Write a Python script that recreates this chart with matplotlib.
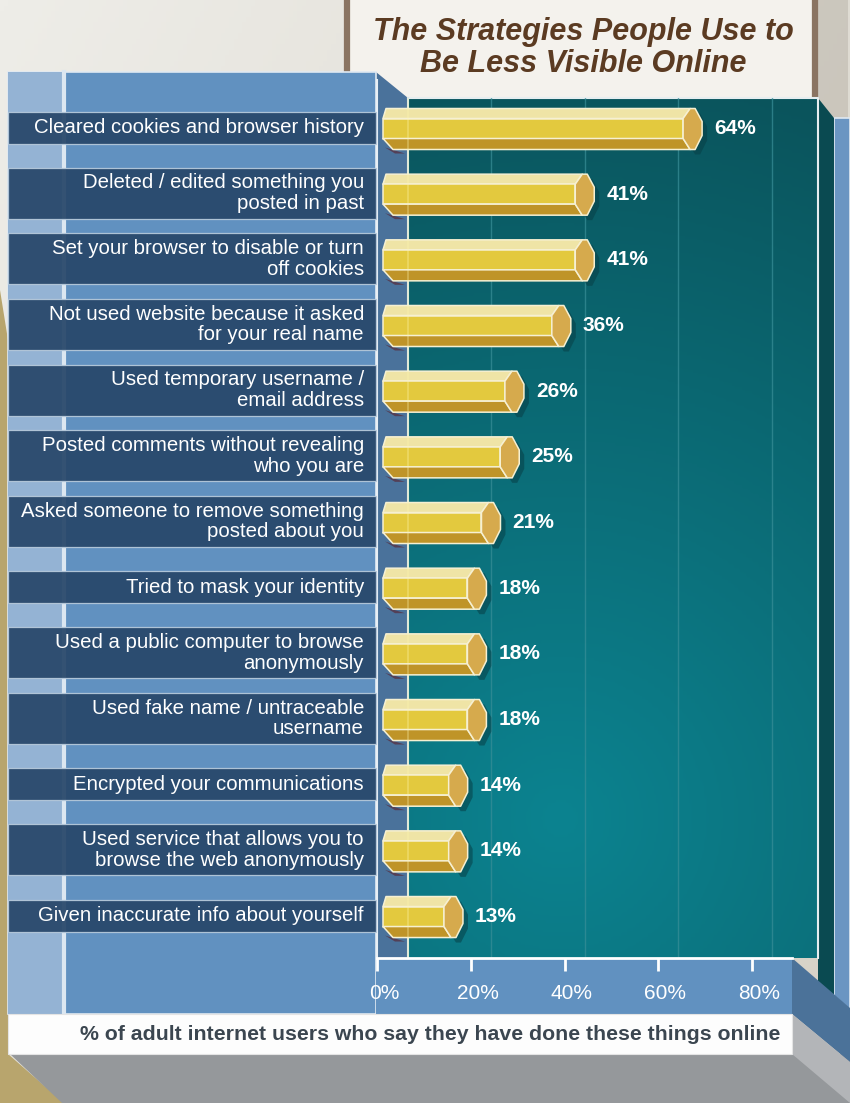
import numpy as np
import matplotlib
matplotlib.use("Agg")
import matplotlib.pyplot as plt
from matplotlib.patches import Polygon, Rectangle
from matplotlib.colors import LinearSegmentedColormap
from matplotlib.transforms import blended_transform_factory, ScaledTranslation

plt.rcParams['font.family'] = ['Liberation Sans', 'DejaVu Sans']

# survey results, top to bottom
strategies = [
    "Cleared cookies and browser history",
    "Deleted / edited something you\nposted in past",
    "Set your browser to disable or turn\noff cookies",
    "Not used website because it asked\nfor your real name",
    "Used temporary username /\nemail address",
    "Posted comments without revealing\nwho you are",
    "Asked someone to remove something\nposted about you",
    "Tried to mask your identity",
    "Used a public computer to browse\nanonymously",
    "Used fake name / untraceable\nusername",
    "Encrypted your communications",
    "Used service that allows you to\nbrowse the web anonymously",
    "Given inaccurate info about yourself",
]
percents = [64, 41, 41, 36, 26, 25, 21, 18, 18, 18, 14, 14, 13]
tick_values = [0, 20, 40, 60, 80]
tick_labels = ["0%", "20%", "40%", "60%", "80%"]

title = "The Strategies People Use to\nBe Less Visible Online"
xlabel = "% of adult internet users who say they have done these things online"

W, H = 850, 1103
fig = plt.figure(figsize=(W / 100, H / 100), dpi=100)

# pixel-space axes for the backdrop
bg = fig.add_axes([0, 0, 1, 1])
bg.set_xlim(0, W)
bg.set_ylim(H, 0)
bg.axis('off')

# chart area in pixels
ax_left, ax_right = 377, 792
ax_top, ax_bottom = 98, 958
xmax = 88.5
row_px = 65.67
first_row = 127.5

ax = fig.add_axes([ax_left / W, (H - ax_bottom) / H,
                   (ax_right - ax_left) / W, (ax_bottom - ax_top) / H])
ax.patch.set_alpha(0)
ax.set_xlim(0, xmax)
ax.set_ylim((ax_bottom - first_row) / row_px, (ax_top - first_row) / row_px)

px2x = xmax / (ax_right - ax_left)
px2y = 1 / row_px

# ---- backdrop ----
gx, gy = np.meshgrid(np.linspace(0, 1, 200), np.linspace(0, 1, 200))
paper = LinearSegmentedColormap.from_list("paper", ["#eeede8", "#d6d1c6"])
bg.imshow(0.6 * gx + 0.4 * gy, cmap=paper, extent=(0, W, H, 0), aspect='auto', zorder=0)

bg.add_patch(Polygon([(0, 290), (8, 340), (8, 1054), (64, H), (0, H)],
                     closed=True, fc="#b8a56d", ec="none", zorder=1))
bg.add_patch(Polygon([(10, 1054), (W, 1054), (W, H), (62, H)],
                     closed=True, fc="#95989b", ec="none", zorder=1))

# title card
bg.add_patch(Rectangle((818, -5), 30, 125, fc="#b9b3a8", ec="none", alpha=0.5, zorder=1))
bg.add_patch(Rectangle((347, -10), 468, 112, fc="#f4f2ed", ec="#8a7462", lw=4.5, zorder=2))
bg.text(583, 48, title, ha='center', va='center', fontsize=22, fontweight='bold',
        fontstyle='italic', color="#5b3b22", linespacing=1.08, zorder=3)

# right edge strips
bg.add_patch(Polygon([(834, 118), (W, 118), (W, 1010), (834, 996)],
                     closed=True, fc="#6a95c2", ec="#dfe8f1", lw=1.2, zorder=3))
bg.add_patch(Polygon([(818, 98), (834, 118), (834, 1000), (818, 986)],
                     closed=True, fc="#0a4a51", ec="none", zorder=3))

# teal back wall
dist = np.hypot((gx * 410 + 408) - 560, (gy * 860 + 98) - 820)
teal = LinearSegmentedColormap.from_list("teal", ["#0a545c", "#0c8390"])
bg.imshow(np.clip(1 - dist / 760, 0, 1), cmap=teal, extent=(408, 818, 958, 98),
          aspect='auto', zorder=4)
bg.plot([408, 818, 818], [98, 98, 958], color="#e6eef0", lw=1.5, zorder=5)
bg.plot([408, 408], [98, 958], color="#d6e4e8", lw=1.5, zorder=5)

# side wall
bg.add_patch(Polygon([(376, 72), (408, 98), (408, 958), (377, 958)],
                     closed=True, fc="#4a729b", ec="none", zorder=4))
bg.plot([377, 377], [80, 958], color="#e8eff5", lw=1.5, zorder=5)

# left panel and tick band
bg.add_patch(Rectangle((8, 72), 368, 942, fc="#6191c0", ec="#e0e9f2", lw=1.2, zorder=4))
bg.add_patch(Rectangle((376, 958), 416, 56, fc="#6191c0", ec="none", zorder=4))
bg.add_patch(Rectangle((8, 72), 55, 942, fc="#94b3d4", ec="none", zorder=4))
bg.plot([64, 64], [72, 1014], color="#dce7f1", lw=3, zorder=4)

# slanted base faces on the right
bg.add_patch(Polygon([(792, 958), (W, 1008), (W, 1062), (792, 1014)],
                     closed=True, fc="#4b7299", ec="none", zorder=5))
bg.add_patch(Polygon([(792, 1014), (W, 1062), (W, H), (792, 1054)],
                     closed=True, fc="#b3b5b8", ec="none", zorder=5))

# caption band
bg.add_patch(Rectangle((8, 1014), 784, 40, fc="#fdfdfd", ec="#e4e4e4", lw=0.8, zorder=5))
bg.text(430, 1035, xlabel, ha='center', va='center', fontsize=15.3,
        fontweight='bold', color="#3b4650", zorder=6)

# ---- category label boxes ----
lab_tr = blended_transform_factory(bg.transData, ax.transData)
for i, name in enumerate(strategies):
    half = (25.5 if "\n" in name else 16) * px2y
    ax.add_patch(Rectangle((8, i - half), 368, 2 * half, transform=lab_tr,
                           fc="#27476a", ec="#b7cadc", lw=0.9, alpha=0.93,
                           clip_on=False, zorder=2))
    ax.text(364, i, name, transform=lab_tr, ha='right', va='center',
            fontsize=14.7, color="white", linespacing=1.1, clip_on=False, zorder=3)

# grid lines on the back wall sit 20 px behind the front ticks
wall = ax.transData + ScaledTranslation(20 / 100, 0, fig.dpi_scale_trans)
for t in tick_values[1:]:
    ax.plot([t, t], ax.get_ylim(), color="#3a8f98", lw=1, alpha=0.7,
            transform=wall, zorder=1)

# ---- hexagonal prism bars ----
s = 6  # bars sit a few px behind the front axis
top_c, front_c, bot_c, cap_c = "#efe4a6", "#e3c93e", "#bf9428", "#d6aa4d"
edge_c = "#f6f0d2"


def pt(xd, dx, yc, dy):
    return (xd + (s + dx) * px2x, yc + dy * px2y)


for i, v in enumerate(percents):
    yc = i + 2 * px2y
    cap = [pt(v, 0, yc, -11), pt(v, 7, yc, -21), pt(v, 12, yc, -21), pt(v, 19, yc, -8),
           pt(v, 19, yc, 6), pt(v, 12, yc, 20), pt(v, 7, yc, 20), pt(v, 0, yc, 9)]
    shadow = [(x + 5 * px2x, y + 5 * px2y) for x, y in cap]
    ax.add_patch(Polygon(shadow, closed=True, fc="#073f46", ec="none", alpha=0.55, zorder=4))
    ax.add_patch(Polygon([pt(0, 2, yc, 18), pt(0, 12, yc, 24), pt(0, 22, yc, 24)],
                         closed=True, fc="#5a1f2a", ec="none", alpha=0.6, zorder=4))
    faces = [
        ([pt(0, 3, yc, -21), pt(v, 7, yc, -21), pt(v, 0, yc, -11), pt(0, 0, yc, -11)], top_c),
        ([pt(0, 0, yc, -11), pt(v, 0, yc, -11), pt(v, 0, yc, 9), pt(0, 0, yc, 9)], front_c),
        ([pt(0, 0, yc, 9), pt(v, 0, yc, 9), pt(v, 7, yc, 20), pt(0, 10, yc, 20)], bot_c),
        (cap, cap_c),
    ]
    for poly, c in faces:
        ax.add_patch(Polygon(poly, closed=True, fc=c, ec=edge_c, lw=1.1,
                             joinstyle='round', zorder=5))
    ax.text(v + (s + 31) * px2x, yc - 1 * px2y, f"{v}%", ha='left', va='center',
            fontsize=15, fontweight='bold', color="white", zorder=6)

# faint highlight where the wall edge shows through the bars
ax.plot([(408 - ax_left) * px2x] * 2, ax.get_ylim(), color="#fff7b0", lw=1.2,
        alpha=0.35, zorder=6)

# ---- axis ----
for side in ['top', 'right', 'left']:
    ax.spines[side].set_visible(False)
ax.spines['bottom'].set_color("white")
ax.spines['bottom'].set_linewidth(2)
ax.spines['bottom'].set_zorder(7)
ax.set_yticks([])
ax.set_xticks(tick_values)
ax.set_xticklabels(tick_labels)
ax.tick_params(axis='x', direction='out', length=9.5, width=2, color="white",
               labelcolor="white", labelsize=15, pad=9)
shift = ScaledTranslation(7 / 100, 0, fig.dpi_scale_trans)
for lab in ax.get_xticklabels():
    lab.set_transform(lab.get_transform() + shift)

fig.savefig("out.png", dpi=100)
